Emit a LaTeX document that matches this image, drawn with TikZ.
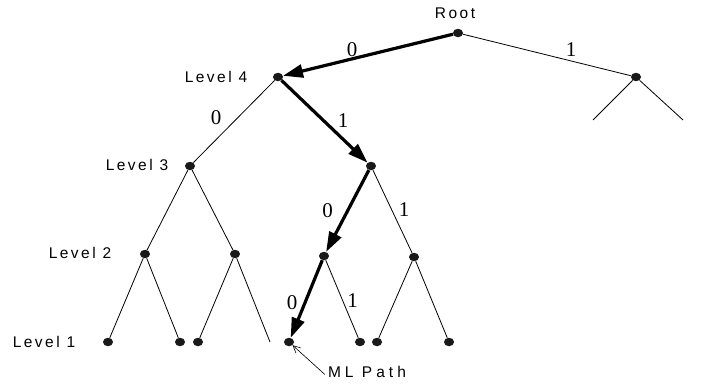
\documentclass[tikz,border=0pt]{standalone}
\usepackage{fontspec}
\setmainfont{Liberation Serif}
\newfontfamily\lblfont[LetterSpace=16]{Liberation Sans}
\newfontfamily\mlfont[LetterSpace=26]{Liberation Sans}
\usetikzlibrary{arrows.meta,shapes.geometric}
\begin{document}
\begin{tikzpicture}[x=1pt,y=-1pt,
  dot/.style={ellipse,fill=black!90,inner sep=0pt,minimum width=10pt,minimum height=8.5pt},
  lbl/.style={font=\lblfont\fontsize{15.5}{15.5}\selectfont,inner sep=0pt},
  digit/.style={font=\fontsize{21}{21}\selectfont,inner sep=0pt},
  edge/.style={line width=0.8pt},
  mlpath/.style={line width=3.2pt,-{Triangle[length=20pt,width=13pt]}},
  pointer/.style={line width=0.6pt,-{Straight Barb[length=7pt,width=7pt]}}
]
\useasboundingbox (0,0) rectangle (702,386);
% nodes
\node[dot] (root) at (458,33) {};
\node[dot] (l4) at (278,77) {};
\node[dot] (r) at (636,77) {};
\node[dot] (l3) at (190,166) {};
\node[dot] (a) at (371,166) {};
\node[dot] (b1) at (145,254) {};
\node[dot] (b2) at (235,254) {};
\node[dot] (b3) at (324,256) {};
\node[dot] (b4) at (414,257) {};
\node[dot] (c1) at (108,342) {};
\node[dot] (c2) at (180,342) {};
\node[dot] (c3) at (198,342) {};
\coordinate (c4) at (270,342);
\node[dot] (c5) at (289,342) {};
\node[dot] (c6) at (360,342) {};
\node[dot] (c7) at (377,342) {};
\node[dot] (c8) at (449,342) {};
\coordinate (rl) at (593,120);
\coordinate (rr) at (683,120);
% labels
\node[lbl] (troot) at (455,13) {Root};
\node[lbl] (tl4) at (216,76.5) {Level 4};
\node[lbl] (tl3) at (137,165) {Level 3};
\node[lbl] (tl2) at (80,253) {Level 2};
\node[lbl] (tl1) at (44,342) {Level 1};
\node[lbl,font=\mlfont\fontsize{15.5}{15.5}\selectfont] (tml) at (367,371.5) {ML Path};
% thin edges
\draw[edge] (root) -- (r);
\draw[edge] (r) -- (rl);
\draw[edge] (r) -- (rr);
\draw[edge] (l4) -- (l3);
\draw[edge] (l3) -- (b1);
\draw[edge] (l3) -- (b2);
\draw[edge] (b1) -- (c1);
\draw[edge] (b1) -- (c2);
\draw[edge] (b2) -- (c3);
\draw[edge] (b2) -- (c4);
\draw[edge] (a) -- (b4);
\draw[edge] (b3) -- (c6);
\draw[edge] (b4) -- (c7);
\draw[edge] (b4) -- (c8);
% ML path
\draw[mlpath] (root) -- (l4);
\draw[mlpath] (l4) -- (a);
\draw[mlpath] (a) -- (b3);
\draw[mlpath] (b3) -- (c5);
\draw[pointer] ([xshift=-3pt,yshift=-3pt]tml.west) -- (c5);
% edge digits
\node[digit] (d1) at (352,49.5) {0};
\node[digit] (d2) at (571,50) {1};
\node[digit] (d3) at (216,118) {0};
\node[digit] (d4) at (343,121) {1};
\node[digit] (d5) at (327.5,211) {0};
\node[digit] (d6) at (404,210) {1};
\node[digit] (d7) at (292,302.5) {0};
\node[digit] (d8) at (352.5,300.5) {1};
\end{tikzpicture}
\end{document}
